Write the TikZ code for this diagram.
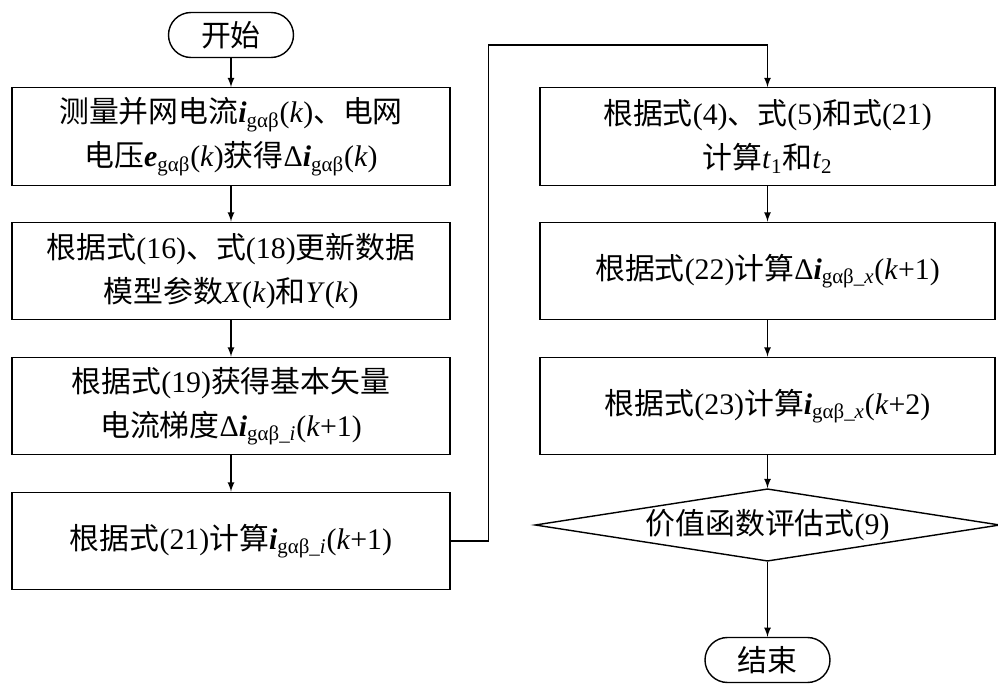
\documentclass[tikz,border=0pt]{standalone}
\usepackage{fontspec}
\setmainfont{Liberation Serif}
\newfontfamily\cjk{Noto Sans CJK SC}
\usetikzlibrary{shapes,arrows}
\newcommand{\zh}[1]{{\cjk #1}}
\newcommand{\cur}[1]{\textbf{\textit{#1}}}
\newcommand{\sub}[1]{\textsubscript{#1}}
\begin{document}
\begin{tikzpicture}[
        line width=0.8pt,
        block/.style={
             rectangle
            , draw
            , align=center
            , minimum width=8.76cm
            , minimum height=1.95cm
            , font=\fontsize{17}{25}\selectfont
        },
        term/.style={
             rectangle
            , draw
            , rounded corners=0.45cm
            , minimum width=2.5cm
            , minimum height=0.9cm
            , font=\fontsize{17}{25}\selectfont
        },
        line/.style={draw, -latex}
        ]
        \useasboundingbox (0,0) rectangle (19.96,-13.8);
        \node[term] (start) at (4.62,-0.7) {\zh{开始}};
        \node[block] (measure) at (4.62,-2.73) {\zh{测量并网电流}\cur{i}\sub{gαβ}(\textit{k})\zh{、电网}\\\zh{电压}\cur{e}\sub{gαβ}(\textit{k})\zh{获得}Δ\cur{i}\sub{gαβ}(\textit{k})};
        \node[block] (update) at (4.62,-5.42) {\zh{根据式}(16)\zh{、式}(18)\zh{更新数据}\\\zh{模型参数}\textit{X}(\textit{k})\zh{和}\textit{Y}(\textit{k})};
        \node[block] (grad) at (4.62,-8.12) {\zh{根据式}(19)\zh{获得基本矢量}\\\zh{电流梯度}Δ\cur{i}\sub{gαβ\_\textit{i}}(\textit{k}+1)};
        \node[block] (pred) at (4.62,-10.82) {\zh{根据式}(21)\zh{计算}\cur{i}\sub{gαβ\_\textit{i}}(\textit{k}+1)};
        \node[block,minimum width=9.1cm] (time) at (15.35,-2.73) {\zh{根据式}(4)\zh{、式}(5)\zh{和式}(21)\\\zh{计算}\textit{t}\sub{1}\zh{和}\textit{t}\sub{2}};
        \node[block,minimum width=9.1cm] (delta) at (15.35,-5.42) {\zh{根据式}(22)\zh{计算}Δ\cur{i}\sub{gαβ\_\textit{x}}(\textit{k}+1)};
        \node[block,minimum width=9.1cm] (next) at (15.35,-8.12) {\zh{根据式}(23)\zh{计算}\cur{i}\sub{gαβ\_\textit{x}}(\textit{k}+2)};
        \node[diamond,draw,aspect=6.4,inner sep=0pt,minimum width=9.3cm,minimum height=1.45cm,font=\fontsize{17}{25}\selectfont] (cost) at (15.35,-10.5) {\zh{价值函数评估式}(9)};
        \node[term] (stop) at (15.35,-13.2) {\zh{结束}};

        \draw[line] (start) -- (measure);
        \draw[line] (measure) -- (update);
        \draw[line] (update) -- (grad);
        \draw[line] (grad) -- (pred);
        \draw[line] (pred.east) -- ++(0.75,0) |- (9.94,-0.9) -| (time.north);
        \draw[line] (time) -- (delta);
        \draw[line] (delta) -- (next);
        \draw[line] (next) -- (cost);
        \draw[line] (cost) -- (stop);
    \end{tikzpicture}
\end{document}
